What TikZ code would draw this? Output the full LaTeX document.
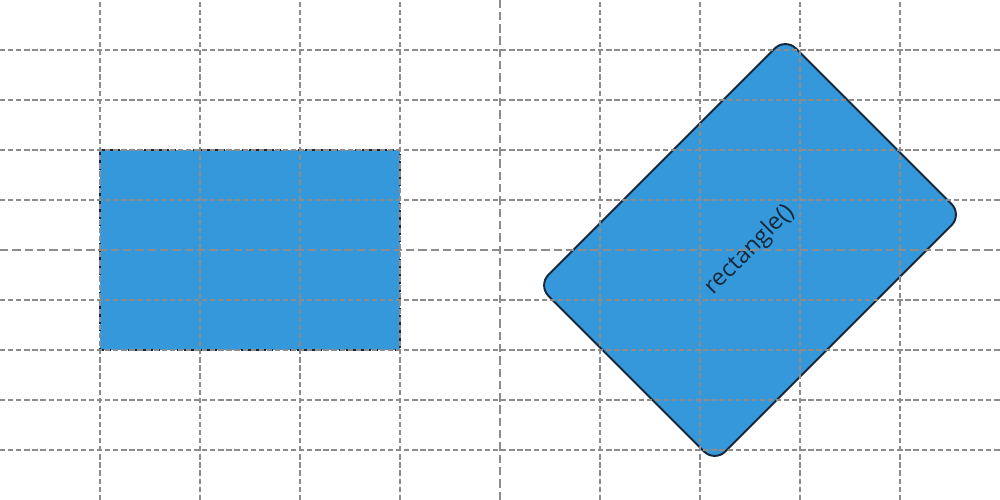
\documentclass[tikz,border=0pt]{standalone}
\usepackage{fontspec}
\setsansfont{Open Sans}
\usepackage{tikz}
\usetikzlibrary{positioning}
\definecolor{ShapeBlue}{HTML}{3498DB}
\definecolor{EdgeNavy}{HTML}{16283A}
\definecolor{GridGray}{HTML}{8C8C8C}
\tikzset{
  gridline/.style={GridGray,line width=0.3pt,dash pattern=on 1.5pt off 0.8pt},
  axisline/.style={GridGray,line width=0.75pt,dash pattern=on 2.4pt off 1.1pt},
  plainrect/.style={draw=EdgeNavy,fill=ShapeBlue,line width=0.3pt,
    dash pattern=on 1.2pt off 0.8pt,minimum width=3cm,minimum height=2cm,
    inner sep=0pt},
  turnedrect/.style={draw=EdgeNavy,fill=ShapeBlue,line width=0.55pt,
    rounded corners=0.15cm,minimum width=3.5cm,minimum height=2.5cm,
    inner sep=0pt,rotate=45,text=EdgeNavy,
    font=\sffamily\fontsize{6.7}{8}\selectfont}
}

\begin{document}
\begin{tikzpicture}[x=1cm,y=1cm,line cap=butt]
  \useasboundingbox (0,0) rectangle (10,5);
  % the two shapes
  \node[plainrect] (plain) at (2.5,2.5) {};
  \node[turnedrect] (turned) at (7.5,2.5) {rectangle()};
  % grid over everything
  \foreach \x in {1,2,3,4,6,7,8,9}
    \draw[gridline] (\x,0) -- (\x,5);
  \foreach \y in {0.5,1,1.5,2,3,3.5,4,4.5}
    \draw[gridline] (0,\y) -- (10,\y);
  \draw[axisline] (5,0) -- (5,5);
  \draw[axisline] (0,2.5) -- (10,2.5);
\end{tikzpicture}
\end{document}
